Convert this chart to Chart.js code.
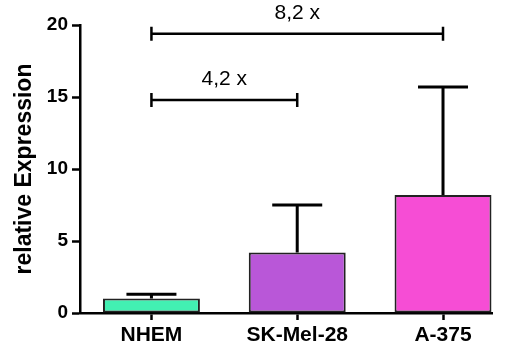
<!DOCTYPE html>
<html>
<head>
<meta charset="utf-8">
<script src="https://cdn.jsdelivr.net/npm/chart.js@4"></script>
<style>
html, body { margin: 0; padding: 0; background: #fff; }
</style>
</head>
<body>
<canvas id="chart" width="506" height="343"></canvas>
<script>
// ==== data ====
const categories = ["NHEM", "SK-Mel-28", "A-375"];
const values = [1.0, 4.2, 8.2];
const errUpper = [1.3, 7.5, 15.7];
const barColors = ["#42F0B2", "#B957D8", "#F64DD5"];
const yTicks = [0, 5, 10, 15, 20];

// significance brackets (category index from -> to, height, text)
const bracketFrom = [0, 0];
const bracketTo = [1, 2];
const bracketY = [14.8, 19.4];
const bracketLabels = ["4,2 x", "8,2 x"];

const FONT = "'Liberation Sans', Arial, sans-serif";

// ==== error bars (upper only) ====
const errorBars = {
    id: "errorBars",
    afterDatasetsDraw(chart) {
        const ctx = chart.ctx;
        const xs = chart.scales.x, ys = chart.scales.y;
        ctx.save();
        ctx.strokeStyle = "#000";
        ctx.lineWidth = 3;
        values.forEach((v, i) => {
            const x = xs.getPixelForValue(i);
            const y0 = ys.getPixelForValue(v);
            const y1 = ys.getPixelForValue(errUpper[i]);
            ctx.beginPath();
            ctx.moveTo(x, y0);
            ctx.lineTo(x, y1);
            ctx.moveTo(x - 25, y1);
            ctx.lineTo(x + 25, y1);
            ctx.stroke();
        });
        ctx.restore();
    }
};

// ==== brackets with fold change ====
const brackets = {
    id: "brackets",
    afterDraw(chart) {
        const ctx = chart.ctx;
        const xs = chart.scales.x, ys = chart.scales.y;
        ctx.save();
        ctx.strokeStyle = "#000";
        ctx.fillStyle = "#000";
        ctx.lineWidth = 2.5;
        ctx.font = "21px " + FONT;
        ctx.textAlign = "center";
        ctx.textBaseline = "bottom";
        bracketY.forEach((yv, i) => {
            const xa = xs.getPixelForValue(bracketFrom[i]);
            const xb = xs.getPixelForValue(bracketTo[i]);
            const y = ys.getPixelForValue(yv);
            ctx.beginPath();
            ctx.moveTo(xa, y);
            ctx.lineTo(xb, y);
            ctx.moveTo(xa, y - 7);
            ctx.lineTo(xa, y + 7);
            ctx.moveTo(xb, y - 7);
            ctx.lineTo(xb, y + 7);
            ctx.stroke();
            ctx.fillText(bracketLabels[i], (xa + xb) / 2, y - 10);
        });
        ctx.restore();
    }
};

new Chart(document.getElementById("chart"), {
    type: "bar",
    data: {
        datasets: [{
            data: values.map((v, i) => ({ x: i, y: v })),
            backgroundColor: barColors,
            borderColor: "#222",
            borderWidth: 2,
            borderSkipped: false,
            barPercentage: 0.665,
            categoryPercentage: 1
        }]
    },
    options: {
        responsive: false,
        animation: false,
        events: [],
        layout: { padding: { left: 0, right: 14, top: 25, bottom: 0 } },
        plugins: { legend: { display: false }, tooltip: { enabled: false } },
        scales: {
            x: {
                type: "linear",
                offset: false,
                min: -0.49,
                max: 2.336,
                afterBuildTicks: s => { s.ticks = categories.map((c, i) => ({ value: i })); },
                afterFit: s => { s.height = 30; },
                grid: { offset: false, drawOnChartArea: false, drawTicks: true, tickLength: 7, tickColor: "#000", tickWidth: 2.5 },
                border: { color: "#000", width: 2.5 },
                ticks: {
                    callback: v => categories[v],
                    font: { family: FONT, size: 21, weight: "bold" },
                    color: "#000",
                    padding: 3,
                    maxRotation: 0,
                    autoSkip: false
                }
            },
            y: {
                min: 0,
                max: 20,
                afterBuildTicks: s => { s.ticks = yTicks.map(v => ({ value: v })); },
                afterFit: s => { s.width = 80; },
                grid: { drawOnChartArea: false, drawTicks: true, tickLength: 8, tickColor: "#000", tickWidth: 2.5 },
                border: { color: "#000", width: 2.5 },
                ticks: {
                    font: { family: FONT, size: 19, weight: "bold" },
                    color: "#000",
                    padding: 4
                },
                title: {
                    display: true,
                    text: "relative Expression",
                    font: { family: FONT, size: 23, weight: "bold" },
                    color: "#000",
                    padding: { top: 11, bottom: 0 }
                }
            }
        }
    },
    plugins: [errorBars, brackets]
});
</script>
</body>
</html>
